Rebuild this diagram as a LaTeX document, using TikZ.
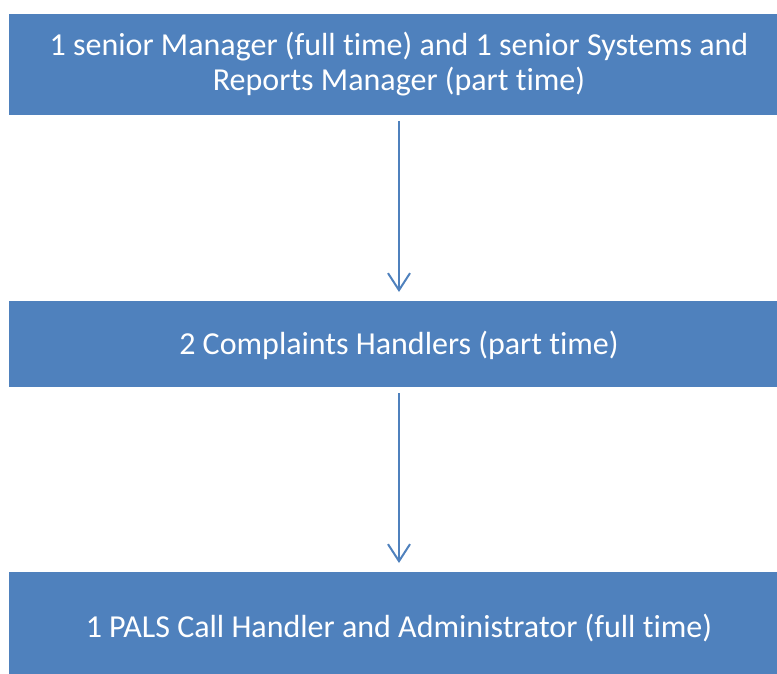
\documentclass[tikz,border=0pt]{standalone}
\usepackage{fontspec}
\setmainfont{Carlito}[Ligatures=NoCommon]
\usetikzlibrary{arrows.meta}
\definecolor{boxblue}{HTML}{4F81BD}
\tikzset{
  x=1pt, y=-1pt,
  staffbox/.style={fill=boxblue, draw=none, text=white, align=center,
    font=\fontsize{32}{35}\selectfont, inner sep=0pt},
  link/.style={draw=boxblue, line width=2pt,
    -{Straight Barb[length=17pt, width=22pt, line width=2pt]}}
}
\begin{document}
\begin{tikzpicture}
  \useasboundingbox (0,0) rectangle (777,674);
  % staff boxes
  \fill[boxblue] (9,14) rectangle (777,115);
  \node[staffbox, fill=none] (top) at (399,64.5) {1 senior Manager (full time) and 1 senior Systems and\\Reports Manager (part time)};
  \fill[boxblue] (9,301) rectangle (777,387);
  \node[staffbox, fill=none] (mid) at (399,345) {2 Complaints Handlers (part time)};
  \fill[boxblue] (9,572) rectangle (777,674);
  \node[staffbox, fill=none] (bot) at (399,628) {1 PALS Call Handler and Administrator (full time)};
  % reporting lines
  \coordinate (a1) at (399,121);
  \coordinate (a2) at (399,292);
  \coordinate (b1) at (399,393);
  \coordinate (b2) at (399,563);
  \draw[link] (a1) -- (a2);
  \draw[link] (b1) -- (b2);
\end{tikzpicture}
\end{document}
